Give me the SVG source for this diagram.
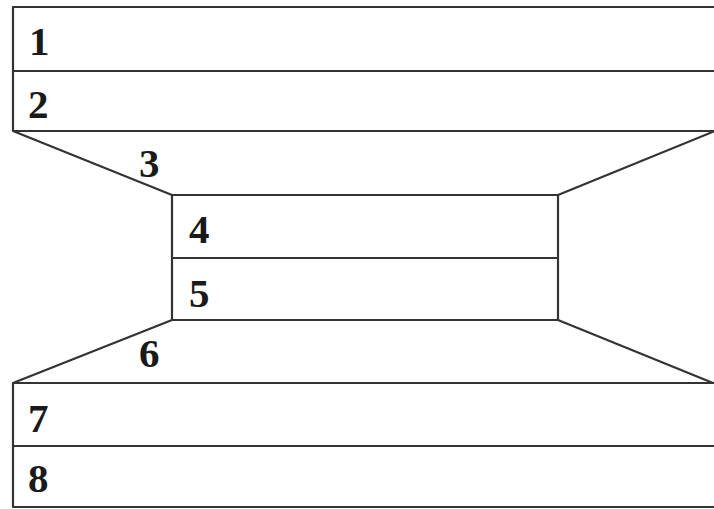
<svg xmlns="http://www.w3.org/2000/svg" width="714" height="509" viewBox="0 0 714 509">
<style>
.ln{fill:none;stroke:#333;stroke-width:2.2;stroke-linejoin:round}
.lb{font-family:"Liberation Serif",serif;font-weight:bold;font-size:41px;fill:#1a1a1a}
</style>
<rect width="714" height="509" fill="#fff"/>
<g id="connectors">
<path class="ln" d="M13,131 L172,195"/>
<path class="ln" d="M715,131 L558,195"/>
<path class="ln" d="M172,320 L13,383"/>
<path class="ln" d="M558,320 L713,383"/>
</g>
<g id="n1"><path class="ln" d="M716,7 H13 V71 H716"/><text class="lb" x="29" y="55">1</text></g>
<g id="n2"><path class="ln" d="M13,71 V131 H716"/><text class="lb" x="28" y="118">2</text></g>
<g id="n3"><text class="lb" x="139" y="177">3</text></g>
<g id="n4"><path class="ln" d="M172,258 V195 H558 V258 Z"/><text class="lb" x="189" y="243">4</text></g>
<g id="n5"><path class="ln" d="M172,258 V320 H558 V258"/><text class="lb" x="189" y="307">5</text></g>
<g id="n6"><text class="lb" x="139" y="367">6</text></g>
<g id="n7"><path class="ln" d="M716,383 H13 V446 H716"/><text class="lb" x="28" y="432">7</text></g>
<g id="n8"><path class="ln" d="M13,446 V507 H716"/><text class="lb" x="28" y="492">8</text></g>
</svg>
